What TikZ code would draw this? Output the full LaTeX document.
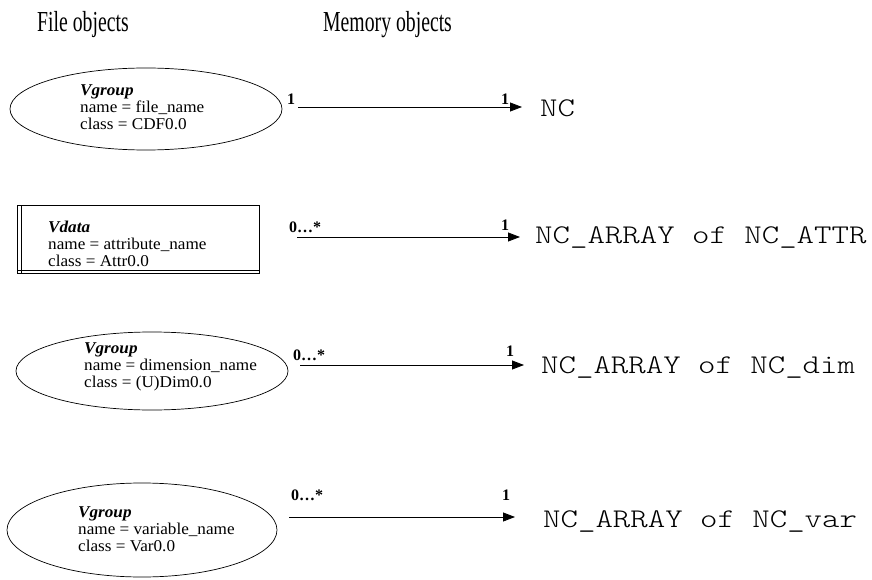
\documentclass[tikz,border=0pt]{standalone}
\usepackage{fontspec}
\setmainfont{Liberation Serif}
\newfontfamily\titlefont[FakeStretch=0.68]{Liberation Serif}
\newfontfamily\boxfont[FakeStretch=1.04]{Liberation Serif}
\newfontfamily\codefont[Extension=.otf, FakeStretch=1.23]{lmmonolt10-regular}
\usetikzlibrary{shapes.geometric,arrows.meta}
\tikzset{
  title/.style={font=\titlefont\fontsize{29}{32}\selectfont, anchor=west, inner sep=0},
  fileobj/.style={draw, ellipse, inner sep=0, line width=0.7pt},
  filetext/.style={font=\boxfont\fontsize{16.5}{17}\selectfont, align=left, anchor=west, inner sep=0},
  mult/.style={font=\bfseries\fontsize{16}{18}\selectfont, inner sep=0},
  memobj/.style={font=\codefont\fontsize{27}{30}\selectfont, anchor=west, inner sep=0},
  assoc/.style={line width=0.8pt, -{Triangle[length=12pt,width=9pt]}}
}
\begin{document}
\begin{tikzpicture}[x=1pt,y=-1pt]
\useasboundingbox (0,0) rectangle (872,580);
% titles
\node[title] (tf) at (37,25) {File objects};
\node[title] (tm) at (323,25) {Memory objects};
% row 1
\node[fileobj, minimum width=272pt, minimum height=82pt] (e1) at (146,109) {};
\node[filetext] (x1) at (80,107) {\textbf{\textit{Vgroup}}\\name = file\_name\\class = CDF0.0};
\node[memobj] (m1) at (540,108) {NC};
\coordinate (s1) at (298,107);
\node[mult] (a1) at (291,99) {1};
\node[mult] (b1) at (505,99) {1};
% row 2
\draw[line width=0.7pt] (17,205) rectangle (259,273);
\draw[line width=0.7pt] (21,205) -- (21,273);
\draw[line width=0.7pt] (17,270) -- (259,270);
\node[inner sep=0, minimum width=242pt, minimum height=68pt] (e2) at (138,239) {};
\node[filetext] (x2) at (48,244) {\textbf{\textit{Vdata}}\\name = attribute\_name\\class = Attr0.0};
\node[memobj] (m2) at (535,238) {NC\_ARRAY of NC\_ATTR};
\coordinate (s2) at (297,237);
\node[mult] (a2) at (305,227) {0\ldots*};
\node[mult] (b2) at (505,225) {1};
% row 3
\node[fileobj, minimum width=272pt, minimum height=78pt] (e3) at (152,371) {};
\node[filetext] (x3) at (84,367) {\textbf{\textit{Vgroup}}\\name = dimension\_name\\class = (U)Dim0.0};
\node[memobj] (m3) at (541,368) {NC\_ARRAY of NC\_dim};
\coordinate (s3) at (300,365);
\node[mult] (a3) at (309,355) {0\ldots*};
\node[mult] (b3) at (510,351) {1};
% row 4
\node[fileobj, minimum width=270pt, minimum height=94pt] (e4) at (142,530) {};
\node[filetext] (x4) at (78,529) {\textbf{\textit{Vgroup}}\\name = variable\_name\\class = Var0.0};
\node[memobj] (m4) at (543,522) {NC\_ARRAY of NC\_var};
\coordinate (s4) at (289,517);
\node[mult] (a4) at (307,495) {0\ldots*};
\node[mult] (b4) at (506,495) {1};
% connectors
\draw[assoc] (s1) -- ([xshift=-18pt]m1.west |- s1);
\draw[assoc] (s2) -- ([xshift=-15pt]m2.west |- s2);
\draw[assoc] (s3) -- ([xshift=-17pt]m3.west |- s3);
\draw[assoc] (s4) -- ([xshift=-28pt]m4.west |- s4);
\end{tikzpicture}
\end{document}
